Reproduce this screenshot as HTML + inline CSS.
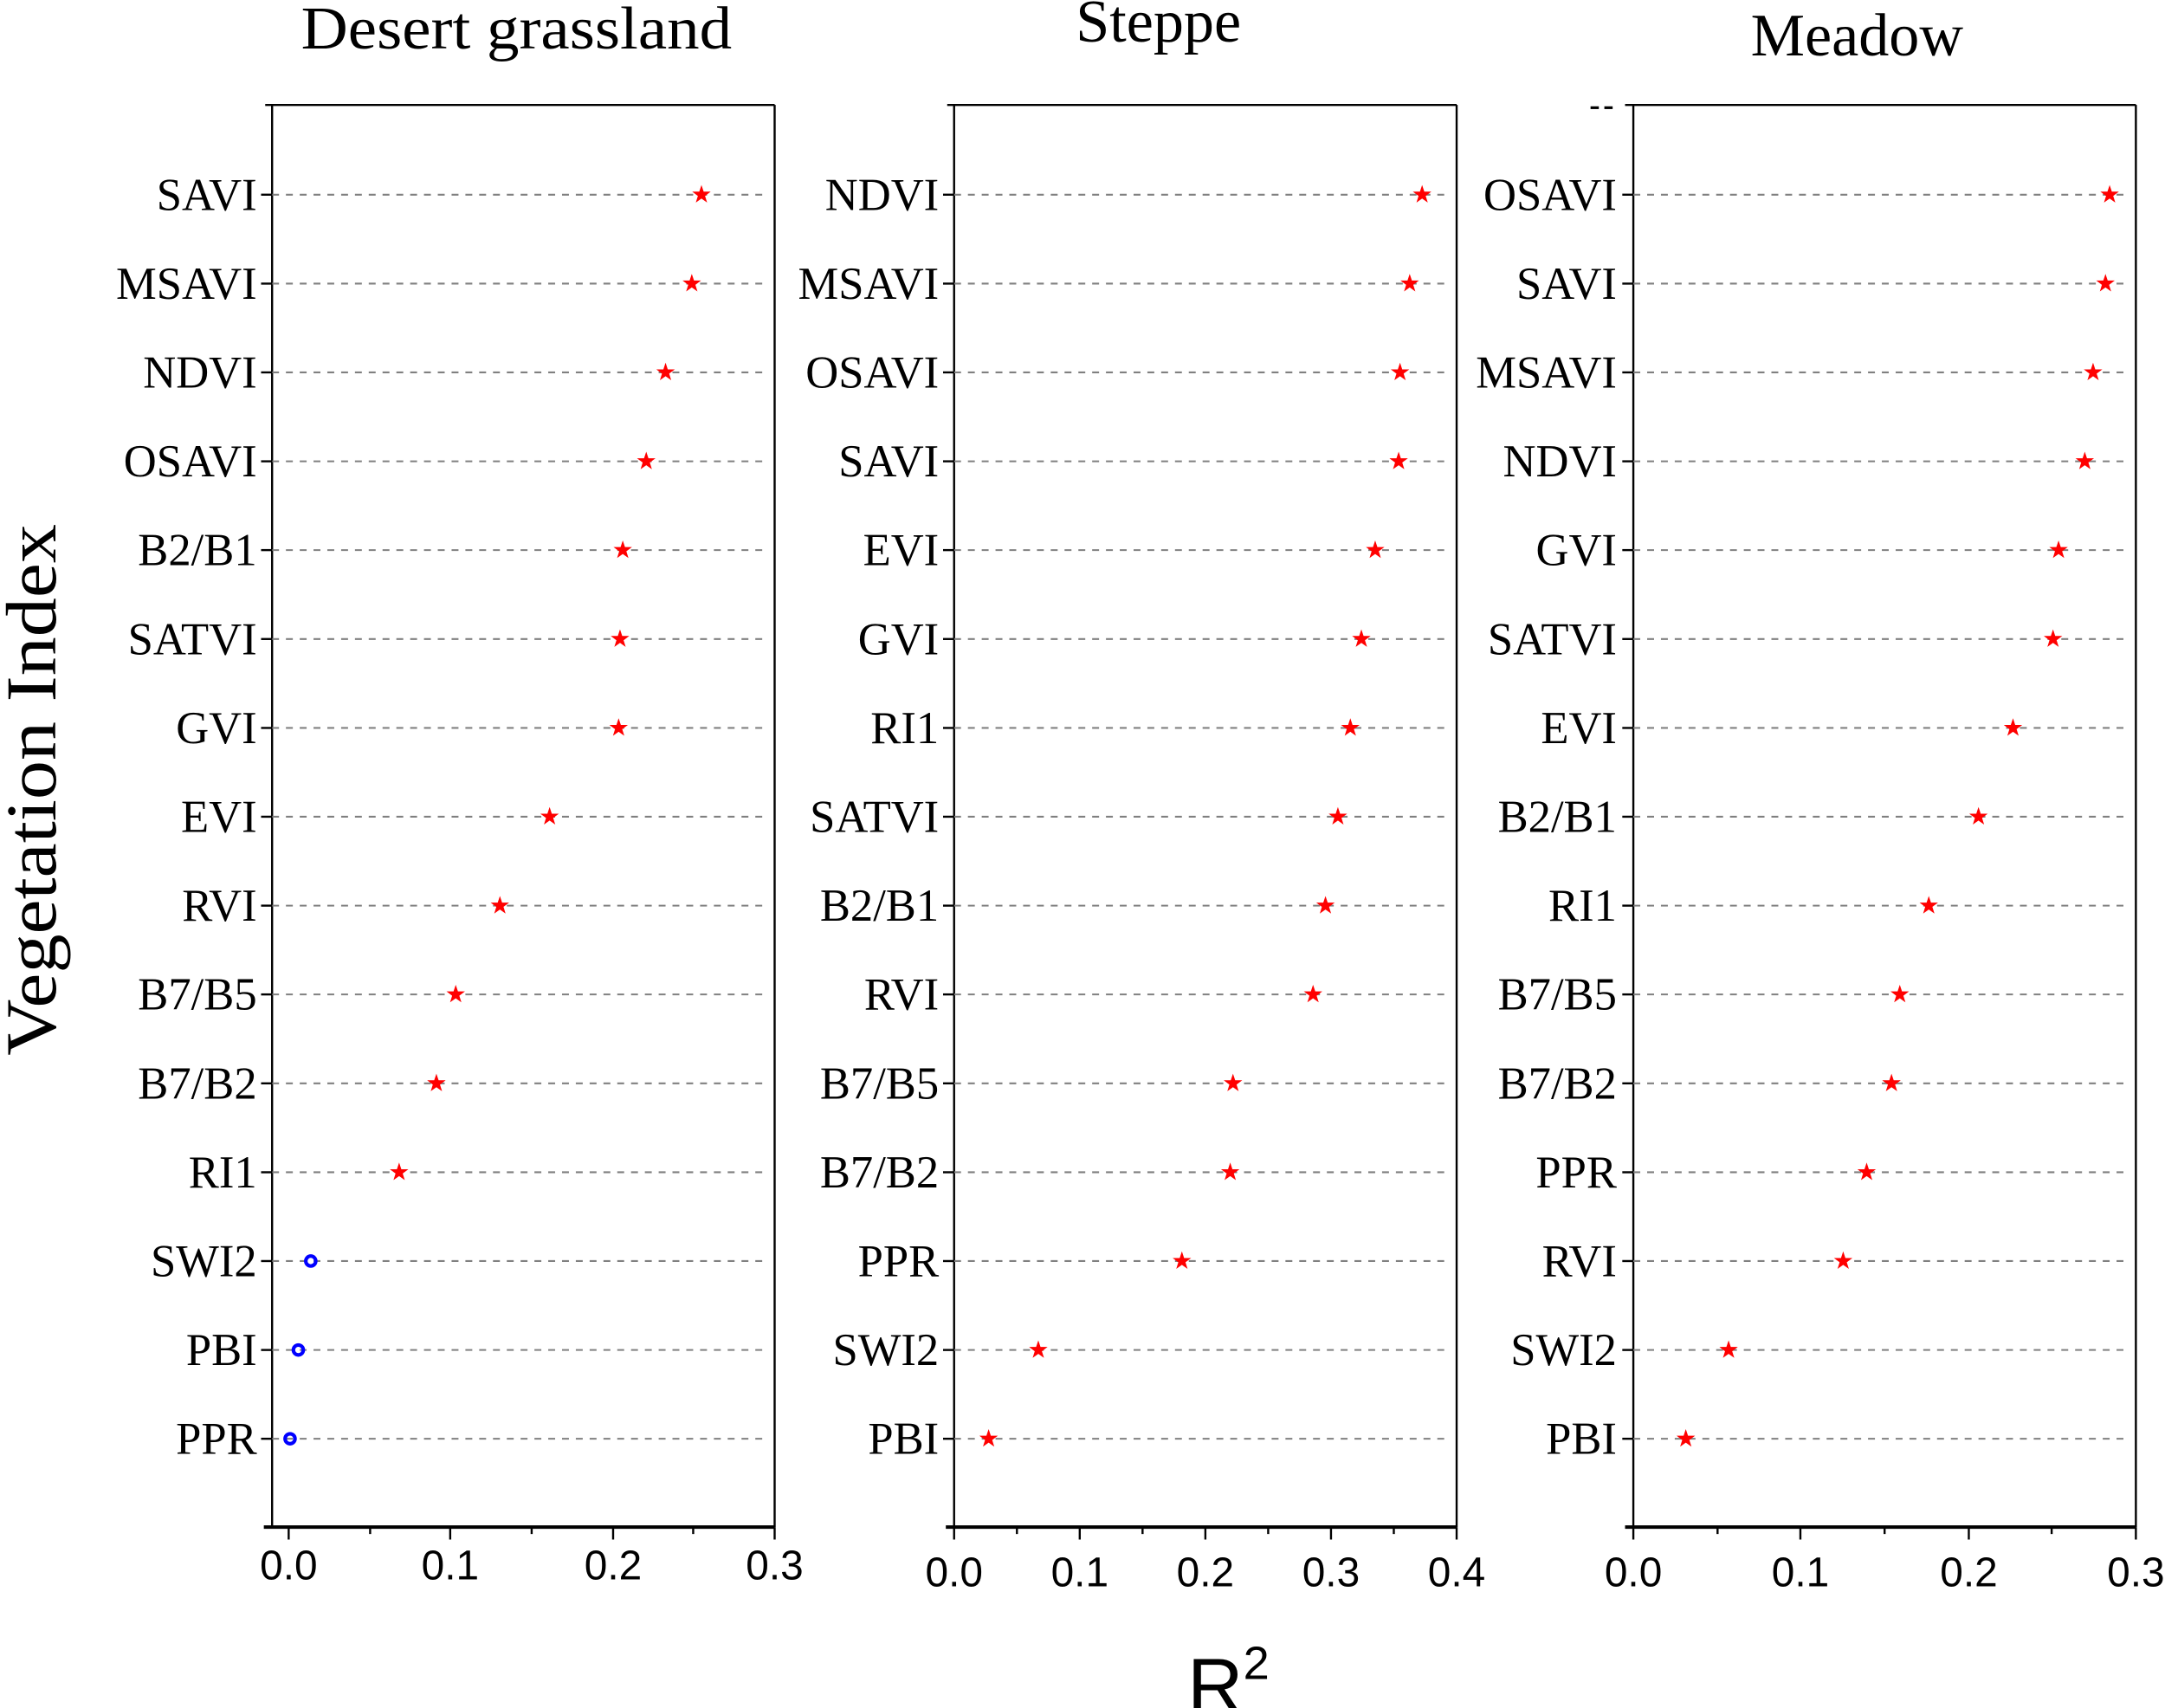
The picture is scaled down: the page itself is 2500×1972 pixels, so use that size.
<!DOCTYPE html>
<html><head><meta charset="utf-8"><style>
html,body{margin:0;padding:0;background:#fff;}
svg{display:block;}
.l{font-family:"Liberation Serif",serif;font-size:33px;fill:#000;text-anchor:end;}
.t{font-family:"Liberation Sans",sans-serif;font-size:30px;fill:#000;text-anchor:middle;}
.h{font-family:"Liberation Serif",serif;font-size:44px;fill:#000;text-anchor:middle;}
.g{stroke:#808080;stroke-width:1.3;stroke-dasharray:5 5;}
.ax{stroke:#000;stroke-width:1.5;fill:none;}
</style></head><body>
<svg width="2500" height="1972" viewBox="0 0 1568 1237" xmlns="http://www.w3.org/2000/svg">
<defs>
<polygon id="s" fill="#f00" points="0,-7 1.6,-2.2 6.7,-2.2 2.6,0.9 4.1,5.7 0,2.8 -4.1,5.7 -2.6,0.9 -6.7,-2.2 -1.6,-2.2"/>
</defs>

<text class="h" x="374" y="35" textLength="312" lengthAdjust="spacingAndGlyphs">Desert grassland</text>
<text class="h" x="839" y="30">Steppe</text>
<text class="h" x="1345" y="40">Meadow</text>
<text font-family="Liberation Serif,serif" font-size="52" text-anchor="middle" transform="translate(40,572) rotate(-90)" textLength="385" lengthAdjust="spacingAndGlyphs">Vegetation Index</text>
<text font-family="Liberation Sans,sans-serif" font-size="56" x="860" y="1240">R<tspan font-size="34" dy="-24">2</tspan></text>

<g>
<line class="ax" x1="192" y1="76" x2="561" y2="76"/>
<line class="ax" x1="197" y1="76" x2="197" y2="1106"/>
<line class="ax" x1="561" y1="76" x2="561" y2="1106"/>
<line x1="191" y1="1106" x2="561" y2="1106" stroke="#000" stroke-width="2.5"/>
<g stroke="#000" stroke-width="1.5">
<line x1="209" y1="1106" x2="209" y2="1115"/><line x1="326" y1="1106" x2="326" y2="1115"/><line x1="444" y1="1106" x2="444" y2="1115"/><line x1="561" y1="1106" x2="561" y2="1115"/>
<line x1="268" y1="1106" x2="268" y2="1111"/><line x1="385" y1="1106" x2="385" y2="1111"/><line x1="502" y1="1106" x2="502" y2="1111"/>
</g>
<text class="t" x="209" y="1144">0.0</text><text class="t" x="326" y="1144">0.1</text><text class="t" x="444" y="1144">0.2</text><text class="t" x="561" y="1144">0.3</text>
</g>
<g>
<line class="ax" x1="686" y1="76" x2="1055" y2="76"/>
<line class="ax" x1="691" y1="76" x2="691" y2="1106"/>
<line class="ax" x1="1055" y1="76" x2="1055" y2="1106"/>
<line x1="685" y1="1106" x2="1055" y2="1106" stroke="#000" stroke-width="2.5"/>
<g stroke="#000" stroke-width="1.5">
<line x1="691" y1="1106" x2="691" y2="1115"/><line x1="782" y1="1106" x2="782" y2="1115"/><line x1="873" y1="1106" x2="873" y2="1115"/><line x1="964" y1="1106" x2="964" y2="1115"/><line x1="1055" y1="1106" x2="1055" y2="1115"/>
<line x1="736.5" y1="1106" x2="736.5" y2="1111"/><line x1="827.5" y1="1106" x2="827.5" y2="1111"/><line x1="918.5" y1="1106" x2="918.5" y2="1111"/><line x1="1009.5" y1="1106" x2="1009.5" y2="1111"/>
</g>
<text class="t" x="691" y="1149">0.0</text><text class="t" x="782" y="1149">0.1</text><text class="t" x="873" y="1149">0.2</text><text class="t" x="964" y="1149">0.3</text><text class="t" x="1055" y="1149">0.4</text>
</g>
<g>
<line class="ax" x1="1177" y1="76" x2="1547" y2="76"/>
<line x1="1152" y1="78" x2="1158" y2="78" stroke="#000" stroke-width="2"/><line x1="1162" y1="78" x2="1168" y2="78" stroke="#000" stroke-width="2"/>
<line class="ax" x1="1183" y1="76" x2="1183" y2="1106"/>
<line class="ax" x1="1547" y1="76" x2="1547" y2="1106"/>
<line x1="1177" y1="1106" x2="1547" y2="1106" stroke="#000" stroke-width="2.5"/>
<g stroke="#000" stroke-width="1.5">
<line x1="1183" y1="1106" x2="1183" y2="1115"/><line x1="1304" y1="1106" x2="1304" y2="1115"/><line x1="1426" y1="1106" x2="1426" y2="1115"/><line x1="1547" y1="1106" x2="1547" y2="1115"/>
<line x1="1244" y1="1106" x2="1244" y2="1111"/><line x1="1365" y1="1106" x2="1365" y2="1111"/><line x1="1486" y1="1106" x2="1486" y2="1111"/>
</g>
<text class="t" x="1183" y="1149">0.0</text><text class="t" x="1304" y="1149">0.1</text><text class="t" x="1426" y="1149">0.2</text><text class="t" x="1547" y="1149">0.3</text>
</g>

<g>
<g class="g"><line x1="197" y1="141" x2="556" y2="141"/><line x1="197" y1="205.4" x2="556" y2="205.4"/><line x1="197" y1="269.7" x2="556" y2="269.7"/><line x1="197" y1="334.1" x2="556" y2="334.1"/><line x1="197" y1="398.4" x2="556" y2="398.4"/><line x1="197" y1="462.8" x2="556" y2="462.8"/><line x1="197" y1="527.2" x2="556" y2="527.2"/><line x1="197" y1="591.5" x2="556" y2="591.5"/><line x1="197" y1="655.9" x2="556" y2="655.9"/><line x1="197" y1="720.2" x2="556" y2="720.2"/><line x1="197" y1="784.6" x2="556" y2="784.6"/><line x1="197" y1="849" x2="556" y2="849"/><line x1="197" y1="913.3" x2="556" y2="913.3"/><line x1="197" y1="977.7" x2="556" y2="977.7"/><line x1="197" y1="1042" x2="556" y2="1042"/></g>
<g stroke="#000" stroke-width="1.5"><line x1="189" y1="141" x2="197" y2="141"/><line x1="189" y1="205.4" x2="197" y2="205.4"/><line x1="189" y1="269.7" x2="197" y2="269.7"/><line x1="189" y1="334.1" x2="197" y2="334.1"/><line x1="189" y1="398.4" x2="197" y2="398.4"/><line x1="189" y1="462.8" x2="197" y2="462.8"/><line x1="189" y1="527.2" x2="197" y2="527.2"/><line x1="189" y1="591.5" x2="197" y2="591.5"/><line x1="189" y1="655.9" x2="197" y2="655.9"/><line x1="189" y1="720.2" x2="197" y2="720.2"/><line x1="189" y1="784.6" x2="197" y2="784.6"/><line x1="189" y1="849" x2="197" y2="849"/><line x1="189" y1="913.3" x2="197" y2="913.3"/><line x1="189" y1="977.7" x2="197" y2="977.7"/><line x1="189" y1="1042" x2="197" y2="1042"/></g>
<text class="l" x="186" y="152">SAVI</text><text class="l" x="186" y="216.4">MSAVI</text><text class="l" x="186" y="280.7">NDVI</text><text class="l" x="186" y="345.1">OSAVI</text><text class="l" x="186" y="409.4">B2/B1</text><text class="l" x="186" y="473.8">SATVI</text><text class="l" x="186" y="538.2">GVI</text><text class="l" x="186" y="602.5">EVI</text><text class="l" x="186" y="666.9">RVI</text><text class="l" x="186" y="731.2">B7/B5</text><text class="l" x="186" y="795.6">B7/B2</text><text class="l" x="186" y="860">RI1</text><text class="l" x="186" y="924.3">SWI2</text><text class="l" x="186" y="988.7">PBI</text><text class="l" x="186" y="1053">PPR</text>
<use href="#s" x="508" y="141"/><use href="#s" x="501" y="205.4"/><use href="#s" x="482" y="269.7"/><use href="#s" x="468" y="334.1"/><use href="#s" x="451" y="398.4"/><use href="#s" x="449" y="462.8"/><use href="#s" x="448" y="527.2"/><use href="#s" x="398" y="591.5"/><use href="#s" x="362" y="655.9"/><use href="#s" x="330" y="720.2"/><use href="#s" x="316" y="784.6"/><use href="#s" x="289" y="849"/>
<g fill="none" stroke="#00f" stroke-width="2.6"><circle cx="225" cy="913.3" r="3.6"/><circle cx="216" cy="977.7" r="3.6"/><circle cx="210" cy="1042" r="3.6"/></g>
</g>

<g>
<g class="g"><line x1="691" y1="141" x2="1050" y2="141"/><line x1="691" y1="205.4" x2="1050" y2="205.4"/><line x1="691" y1="269.7" x2="1050" y2="269.7"/><line x1="691" y1="334.1" x2="1050" y2="334.1"/><line x1="691" y1="398.4" x2="1050" y2="398.4"/><line x1="691" y1="462.8" x2="1050" y2="462.8"/><line x1="691" y1="527.2" x2="1050" y2="527.2"/><line x1="691" y1="591.5" x2="1050" y2="591.5"/><line x1="691" y1="655.9" x2="1050" y2="655.9"/><line x1="691" y1="720.2" x2="1050" y2="720.2"/><line x1="691" y1="784.6" x2="1050" y2="784.6"/><line x1="691" y1="849" x2="1050" y2="849"/><line x1="691" y1="913.3" x2="1050" y2="913.3"/><line x1="691" y1="977.7" x2="1050" y2="977.7"/><line x1="691" y1="1042" x2="1050" y2="1042"/></g>
<g stroke="#000" stroke-width="1.5"><line x1="683" y1="141" x2="691" y2="141"/><line x1="683" y1="205.4" x2="691" y2="205.4"/><line x1="683" y1="269.7" x2="691" y2="269.7"/><line x1="683" y1="334.1" x2="691" y2="334.1"/><line x1="683" y1="398.4" x2="691" y2="398.4"/><line x1="683" y1="462.8" x2="691" y2="462.8"/><line x1="683" y1="527.2" x2="691" y2="527.2"/><line x1="683" y1="591.5" x2="691" y2="591.5"/><line x1="683" y1="655.9" x2="691" y2="655.9"/><line x1="683" y1="720.2" x2="691" y2="720.2"/><line x1="683" y1="784.6" x2="691" y2="784.6"/><line x1="683" y1="849" x2="691" y2="849"/><line x1="683" y1="913.3" x2="691" y2="913.3"/><line x1="683" y1="977.7" x2="691" y2="977.7"/><line x1="683" y1="1042" x2="691" y2="1042"/></g>
<text class="l" x="680" y="152">NDVI</text><text class="l" x="680" y="216.4">MSAVI</text><text class="l" x="680" y="280.7">OSAVI</text><text class="l" x="680" y="345.1">SAVI</text><text class="l" x="680" y="409.4">EVI</text><text class="l" x="680" y="473.8">GVI</text><text class="l" x="680" y="538.2">RI1</text><text class="l" x="680" y="602.5">SATVI</text><text class="l" x="680" y="666.9">B2/B1</text><text class="l" x="680" y="731.2">RVI</text><text class="l" x="680" y="795.6">B7/B5</text><text class="l" x="680" y="860">B7/B2</text><text class="l" x="680" y="924.3">PPR</text><text class="l" x="680" y="988.7">SWI2</text><text class="l" x="680" y="1053">PBI</text>
<use href="#s" x="1030" y="141"/><use href="#s" x="1021" y="205.4"/><use href="#s" x="1014" y="269.7"/><use href="#s" x="1013" y="334.1"/><use href="#s" x="996" y="398.4"/><use href="#s" x="986" y="462.8"/><use href="#s" x="978" y="527.2"/><use href="#s" x="969" y="591.5"/><use href="#s" x="960" y="655.9"/><use href="#s" x="951" y="720.2"/><use href="#s" x="893" y="784.6"/><use href="#s" x="891" y="849"/><use href="#s" x="856" y="913.3"/><use href="#s" x="752" y="977.7"/><use href="#s" x="716" y="1042"/>
</g>

<g>
<g class="g"><line x1="1183" y1="141" x2="1542" y2="141"/><line x1="1183" y1="205.4" x2="1542" y2="205.4"/><line x1="1183" y1="269.7" x2="1542" y2="269.7"/><line x1="1183" y1="334.1" x2="1542" y2="334.1"/><line x1="1183" y1="398.4" x2="1542" y2="398.4"/><line x1="1183" y1="462.8" x2="1542" y2="462.8"/><line x1="1183" y1="527.2" x2="1542" y2="527.2"/><line x1="1183" y1="591.5" x2="1542" y2="591.5"/><line x1="1183" y1="655.9" x2="1542" y2="655.9"/><line x1="1183" y1="720.2" x2="1542" y2="720.2"/><line x1="1183" y1="784.6" x2="1542" y2="784.6"/><line x1="1183" y1="849" x2="1542" y2="849"/><line x1="1183" y1="913.3" x2="1542" y2="913.3"/><line x1="1183" y1="977.7" x2="1542" y2="977.7"/><line x1="1183" y1="1042" x2="1542" y2="1042"/></g>
<g stroke="#000" stroke-width="1.5"><line x1="1175" y1="141" x2="1183" y2="141"/><line x1="1175" y1="205.4" x2="1183" y2="205.4"/><line x1="1175" y1="269.7" x2="1183" y2="269.7"/><line x1="1175" y1="334.1" x2="1183" y2="334.1"/><line x1="1175" y1="398.4" x2="1183" y2="398.4"/><line x1="1175" y1="462.8" x2="1183" y2="462.8"/><line x1="1175" y1="527.2" x2="1183" y2="527.2"/><line x1="1175" y1="591.5" x2="1183" y2="591.5"/><line x1="1175" y1="655.9" x2="1183" y2="655.9"/><line x1="1175" y1="720.2" x2="1183" y2="720.2"/><line x1="1175" y1="784.6" x2="1183" y2="784.6"/><line x1="1175" y1="849" x2="1183" y2="849"/><line x1="1175" y1="913.3" x2="1183" y2="913.3"/><line x1="1175" y1="977.7" x2="1183" y2="977.7"/><line x1="1175" y1="1042" x2="1183" y2="1042"/></g>
<text class="l" x="1171" y="152">OSAVI</text><text class="l" x="1171" y="216.4">SAVI</text><text class="l" x="1171" y="280.7">MSAVI</text><text class="l" x="1171" y="345.1">NDVI</text><text class="l" x="1171" y="409.4">GVI</text><text class="l" x="1171" y="473.8">SATVI</text><text class="l" x="1171" y="538.2">EVI</text><text class="l" x="1171" y="602.5">B2/B1</text><text class="l" x="1171" y="666.9">RI1</text><text class="l" x="1171" y="731.2">B7/B5</text><text class="l" x="1171" y="795.6">B7/B2</text><text class="l" x="1171" y="860">PPR</text><text class="l" x="1171" y="924.3">RVI</text><text class="l" x="1171" y="988.7">SWI2</text><text class="l" x="1171" y="1053">PBI</text>
<use href="#s" x="1528" y="141"/><use href="#s" x="1525" y="205.4"/><use href="#s" x="1516" y="269.7"/><use href="#s" x="1510" y="334.1"/><use href="#s" x="1491" y="398.4"/><use href="#s" x="1487" y="462.8"/><use href="#s" x="1458" y="527.2"/><use href="#s" x="1433" y="591.5"/><use href="#s" x="1397" y="655.9"/><use href="#s" x="1376" y="720.2"/><use href="#s" x="1370" y="784.6"/><use href="#s" x="1352" y="849"/><use href="#s" x="1335" y="913.3"/><use href="#s" x="1252" y="977.7"/><use href="#s" x="1221" y="1042"/>
</g>
</svg>
</body></html>
